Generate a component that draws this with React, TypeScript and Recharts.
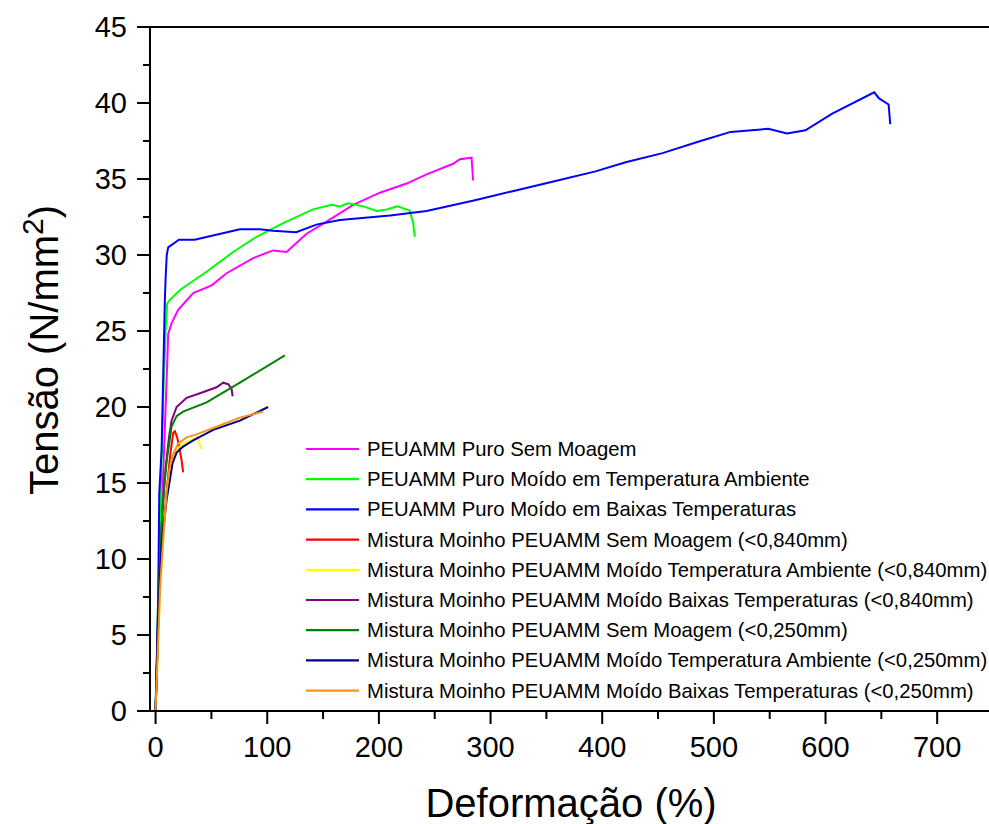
import React from 'react';
import { LineChart, Line, XAxis, YAxis, Legend, ReferenceLine } from 'recharts';

const seriesNames = [
  'PEUAMM Puro Sem Moagem',
  'PEUAMM Puro Moído em Temperatura Ambiente',
  'PEUAMM Puro Moído em Baixas Temperaturas',
  'Mistura Moinho PEUAMM Sem Moagem (<0,840mm)',
  'Mistura Moinho PEUAMM Moído Temperatura Ambiente (<0,840mm)',
  'Mistura Moinho PEUAMM Moído Baixas Temperaturas (<0,840mm)',
  'Mistura Moinho PEUAMM Sem Moagem (<0,250mm)',
  'Mistura Moinho PEUAMM Moído Temperatura Ambiente (<0,250mm)',
  'Mistura Moinho PEUAMM Moído Baixas Temperaturas (<0,250mm)',
];
const seriesColors = ['#FF00FF', '#00FF00', '#0000FF', '#FF0000', '#FFFF00', '#800080', '#008000', '#000080', '#F7931E'];

const xTicks = [0, 50, 100, 150, 200, 250, 300, 350, 400, 450, 500, 550, 600, 650, 700, 750];
const yTicks = [0, 2.5, 5, 7.5, 10, 12.5, 15, 17.5, 20, 22.5, 25, 27.5, 30, 32.5, 35, 37.5, 40, 42.5, 45];

const magentaX = [0, 2, 4, 6, 8, 10, 11.3, 14.3, 20.2, 33.7, 50.2, 63.6, 87.4, 105.3, 117.3, 135.2, 153.1, 177, 200.9, 224.8, 242.7, 266.5, 272.5, 283, 284.4];
const magentaY = [0, 5, 10, 14, 18, 22, 24.8, 25.5, 26.4, 27.5, 28.0, 28.8, 29.8, 30.3, 30.2, 31.4, 32.2, 33.3, 34.1, 34.7, 35.3, 36.0, 36.3, 36.4, 34.9];

const greenX = [0, 1.5, 3.5, 5, 6.8, 9, 10.4, 12.2, 21.8, 45.7, 69.5, 90.4, 114.3, 141, 157.6, 165, 172.5, 186, 198, 207, 216.4, 224.8, 227.7, 230.7, 232.2];
const greenY = [0, 5, 11, 15.5, 20.5, 25, 26.8, 27.0, 27.7, 28.9, 30.2, 31.2, 32.1, 33.0, 33.3, 33.2, 33.4, 33.2, 32.9, 33.0, 33.2, 33.0, 32.9, 32.1, 31.2];

const blueX = [0, 1, 2.3, 3.3, 5.4, 8.3, 9, 10, 11.3, 20.9, 35, 75.5, 93.4, 105, 126, 144, 165, 210, 242.7, 286, 319.8, 360, 394, 421, 454, 488, 515, 548.7, 565.5, 582, 606, 643.6, 648, 656.5, 658];
const blueY = [0, 3, 7.3, 14.3, 17.2, 27, 28.5, 30, 30.5, 31.0, 31.0, 31.7, 31.7, 31.6, 31.5, 32.0, 32.3, 32.6, 32.9, 33.6, 34.2, 34.9, 35.5, 36.1, 36.7, 37.5, 38.1, 38.3, 38.0, 38.2, 39.3, 40.7, 40.3, 39.9, 38.6];

const redX = [0, 2, 4, 7, 10, 13, 15.8, 17.3, 19.3, 21.1, 23.3, 24.7];
const redY = [0, 5, 9, 12, 14.5, 16.8, 18.3, 18.4, 18.0, 17.4, 16.5, 15.7];

const yellowX = [0, 2, 4, 7, 10, 12.8, 15.8, 20, 25, 30.7, 35, 38.2, 39.5, 41.2];
const yellowY = [0, 4, 8, 11.5, 14, 15.7, 16.7, 17.3, 17.6, 17.8, 17.9, 18.0, 17.6, 17.2];

const purpleX = [0, 2, 4, 6, 9, 12, 14.3, 18.8, 27.8, 39.7, 54.6, 60.5, 65, 68, 69];
const purpleY = [0, 5, 10, 13, 16, 18, 19.1, 20.0, 20.6, 20.9, 21.3, 21.6, 21.5, 21.2, 20.7];

const darkGreenX = [0, 2, 4, 6, 8, 10, 12.2, 14.3, 18.8, 24.7, 45.7, 75.5, 115.8];
const darkGreenY = [0, 5, 10, 13, 15, 16.5, 17.6, 18.7, 19.4, 19.7, 20.3, 21.6, 23.4];

const navyX = [0, 2.3, 5.4, 9.9, 12.8, 14.3, 15.2, 18.8, 24.7, 33.7, 51.6, 75.5, 100.8];
const navyY = [0, 6.2, 11.0, 13.9, 15.2, 15.9, 16.3, 17.0, 17.4, 17.8, 18.5, 19.1, 20.0];

const orangeX = [0, 2, 4, 7, 10, 12.8, 15.8, 20.2, 27.8, 36.7, 54.6, 75.5, 96.4];
const orangeY = [0, 4, 8, 11.5, 14.5, 16.1, 16.9, 17.6, 18.0, 18.2, 18.7, 19.3, 19.7];

const seriesX = [magentaX, greenX, blueX, redX, yellowX, purpleX, darkGreenX, navyX, orangeX];
const seriesY = [magentaY, greenY, blueY, redY, yellowY, purpleY, darkGreenY, navyY, orangeY];

const series = seriesNames.map((name, i) => ({
  name,
  color: seriesColors[i],
  data: seriesX[i].map((x, j) => ({ x, y: seriesY[i][j] })),
}));

const FONT = '"Liberation Sans", Arial, sans-serif';

const XTick = (props: any) => {
  const { x, y, payload } = props;
  const v = payload.value;
  const major = v % 100 === 0;
  return (
    <g>
      <line x1={x} x2={x} y1={y} y2={y + (major ? 13 : 8)} stroke="#000" strokeWidth={2} />
      {major && (
        <text x={x} y={y + 46} textAnchor="middle" fontSize={29} fontFamily={FONT} fill="#000">
          {v}
        </text>
      )}
    </g>
  );
};

const YTick = (props: any) => {
  const { x, y, payload } = props;
  const v = payload.value;
  const major = v % 5 === 0;
  return (
    <g>
      <line x1={x - (major ? 13 : 7)} x2={x} y1={y} y2={y} stroke="#000" strokeWidth={2} />
      {major && (
        <text x={x - 23} y={y} textAnchor="end" dominantBaseline="central" fontSize={29} fontFamily={FONT} fill="#000">
          {v}
        </text>
      )}
    </g>
  );
};

const renderYLabel = () => (
  <text
    x={58}
    y={350}
    transform="rotate(-90, 58, 350)"
    textAnchor="middle"
    fontSize={40}
    fontFamily={FONT}
    fill="#000"
  >
    Tensão (N/mm
    <tspan dy={-15} fontSize={30}>2</tspan>
    <tspan dy={15}>)</tspan>
  </text>
);

const renderXLabel = () => (
  <text x={571} y={817} textAnchor="middle" fontSize={40} fontFamily={FONT} fill="#000">
    Deformação (%)
  </text>
);

const renderLegend = () => (
  <svg width={690} height={280} style={{ display: 'block' }}>
    {series.map((s, i) => {
      const cy = 19 + i * 30.2;
      return (
        <g key={s.name}>
          <line x1={8} x2={61} y1={cy} y2={cy} stroke={s.color} strokeWidth={2.2} />
          <text x={69} y={cy} dominantBaseline="central" fontSize={20.3} fontFamily={FONT} fill="#000">
            {s.name}
          </text>
        </g>
      );
    })}
  </svg>
);

export default function App() {
  return (
    <div style={{ position: 'absolute', left: 0, top: 0, width: 989, height: 824, overflow: 'hidden', background: '#fff' }}>
      <LineChart width={994} height={824} margin={{ top: 27, right: 1, bottom: 0, left: 0 }}>
        <XAxis
          dataKey="x"
          type="number"
          domain={[-5, 750]}
          ticks={xTicks}
          interval={0}
          allowDataOverflow
          height={113}
          tickSize={0}
          tickMargin={0}
          tickLine={false}
          tick={<XTick />}
          axisLine={{ stroke: '#000', strokeWidth: 2 }}
          label={renderXLabel}
        />
        <YAxis
          dataKey="y"
          type="number"
          domain={[0, 45]}
          ticks={yTicks}
          interval={0}
          allowDataOverflow
          width={150}
          tickSize={0}
          tickMargin={0}
          tickLine={false}
          tick={<YTick />}
          axisLine={{ stroke: '#000', strokeWidth: 2 }}
          label={renderYLabel}
        />
        <ReferenceLine y={45} stroke="#000" strokeWidth={2} />
        {series.map((s) => (
          <Line
            key={s.name}
            data={s.data}
            dataKey="y"
            name={s.name}
            type="linear"
            stroke={s.color}
            strokeWidth={2}
            dot={false}
            activeDot={false}
            isAnimationActive={false}
          />
        ))}
        <Legend
          layout="vertical"
          align="center"
          verticalAlign="middle"
          content={renderLegend}
          wrapperStyle={{ position: 'absolute', left: 298, top: 430, width: 690, height: 280 }}
        />
      </LineChart>
    </div>
  );
}
